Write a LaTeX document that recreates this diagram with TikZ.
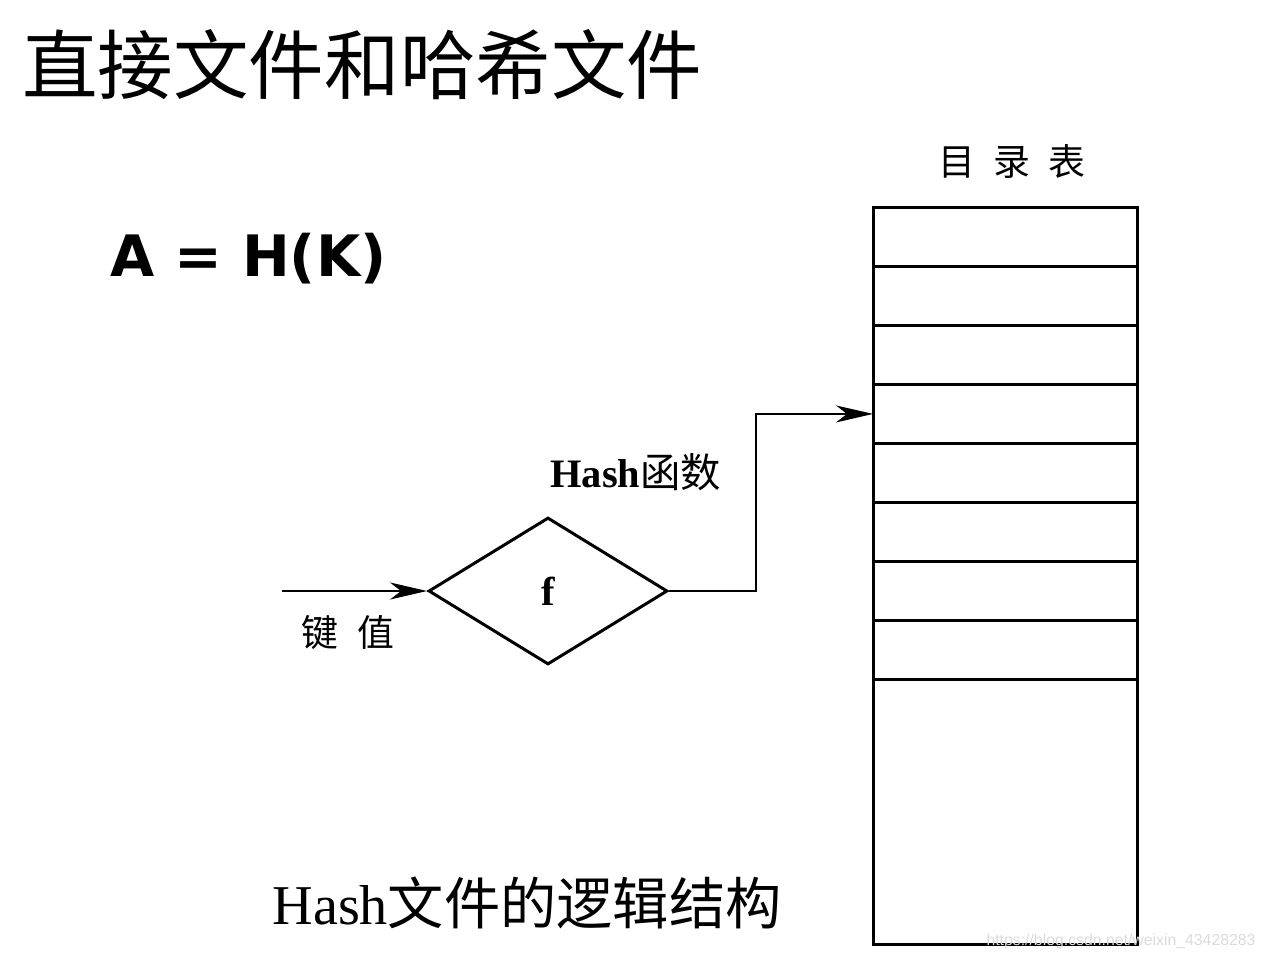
\documentclass[tikz,border=0pt]{standalone}
\usepackage{fontspec}
\setmainfont{Liberation Serif}
\newfontfamily\cjkfont{Noto Sans CJK SC}
\newfontfamily\boldsans{DejaVu Sans}
\newfontfamily\wmfont{Liberation Sans}
\usetikzlibrary{arrows.meta,positioning,shapes.geometric}

\begin{document}
\begin{tikzpicture}[x=0.02cm,y=-0.02cm,
  slot/.style={draw,line width=0.06cm,minimum width=5.3cm,minimum height=1.1825cm,
    inner sep=0pt,outer sep=0pt,anchor=north west},
  hashfn/.style={diamond,draw,line width=0.06cm,aspect=1.63,minimum width=4.78cm,
    minimum height=2.94cm,inner sep=0pt,font=\fontsize{23}{23}\selectfont\bfseries},
  arr/.style={-{Stealth[length=0.74cm,width=0.34cm,inset=0.22cm]},line width=0.04cm},
  lbl/.style={inner sep=0pt}
]
  \useasboundingbox (0,0) rectangle (1267,960);

  % Titles
  \node[lbl,anchor=west,font=\fontsize{43}{43}\selectfont\cjkfont] (title) at (22,65) {直接文件和哈希文件};
  \node[lbl,anchor=base west,font=\fontsize{32.5}{32.5}\selectfont\boldsans\bfseries] (formula) at (110,276) {A = H(K)};

  % Directory table
  \node[lbl,font=\fontsize{21}{21}\selectfont\cjkfont] (dirlabel) at (1012,162) {目\hspace{0.5em}录\hspace{0.5em}表};
  \node[slot,minimum height=14.76cm] (dir) at (873,207) {};
  \foreach \i in {1,...,8}
    \node[slot] (row\i) at (873,{207+59.125*(\i-1)}) {};

  % Hash function
  \node[hashfn] (hash) at (548,591) {f};
  \node[lbl,anchor=base west,font=\fontsize{23}{23}\selectfont] (hashlabel) at (550,487) {\textbf{Hash}{\cjkfont 函数}};
  \coordinate (keyin) at (282,591);
  \node[lbl,font=\fontsize{21}{21}\selectfont\cjkfont] (keylabel) at (348,633) {键\hspace{0.5em}值};

  \draw[arr] (keyin) -- (hash.west);
  \draw[arr] (hash.east) -- ++(87,0) |- (row4.west);

  % Caption
  \node[lbl,font=\fontsize{32}{32}\selectfont] (caption) at (527,903) {Hash{\cjkfont 文件的逻辑结构}};
  \node[lbl,text=black!14,font=\fontsize{9}{9}\selectfont\wmfont] (mark) at (1121,941) {https://blog.csdn.net/weixin\_43428283};
\end{tikzpicture}
\end{document}
